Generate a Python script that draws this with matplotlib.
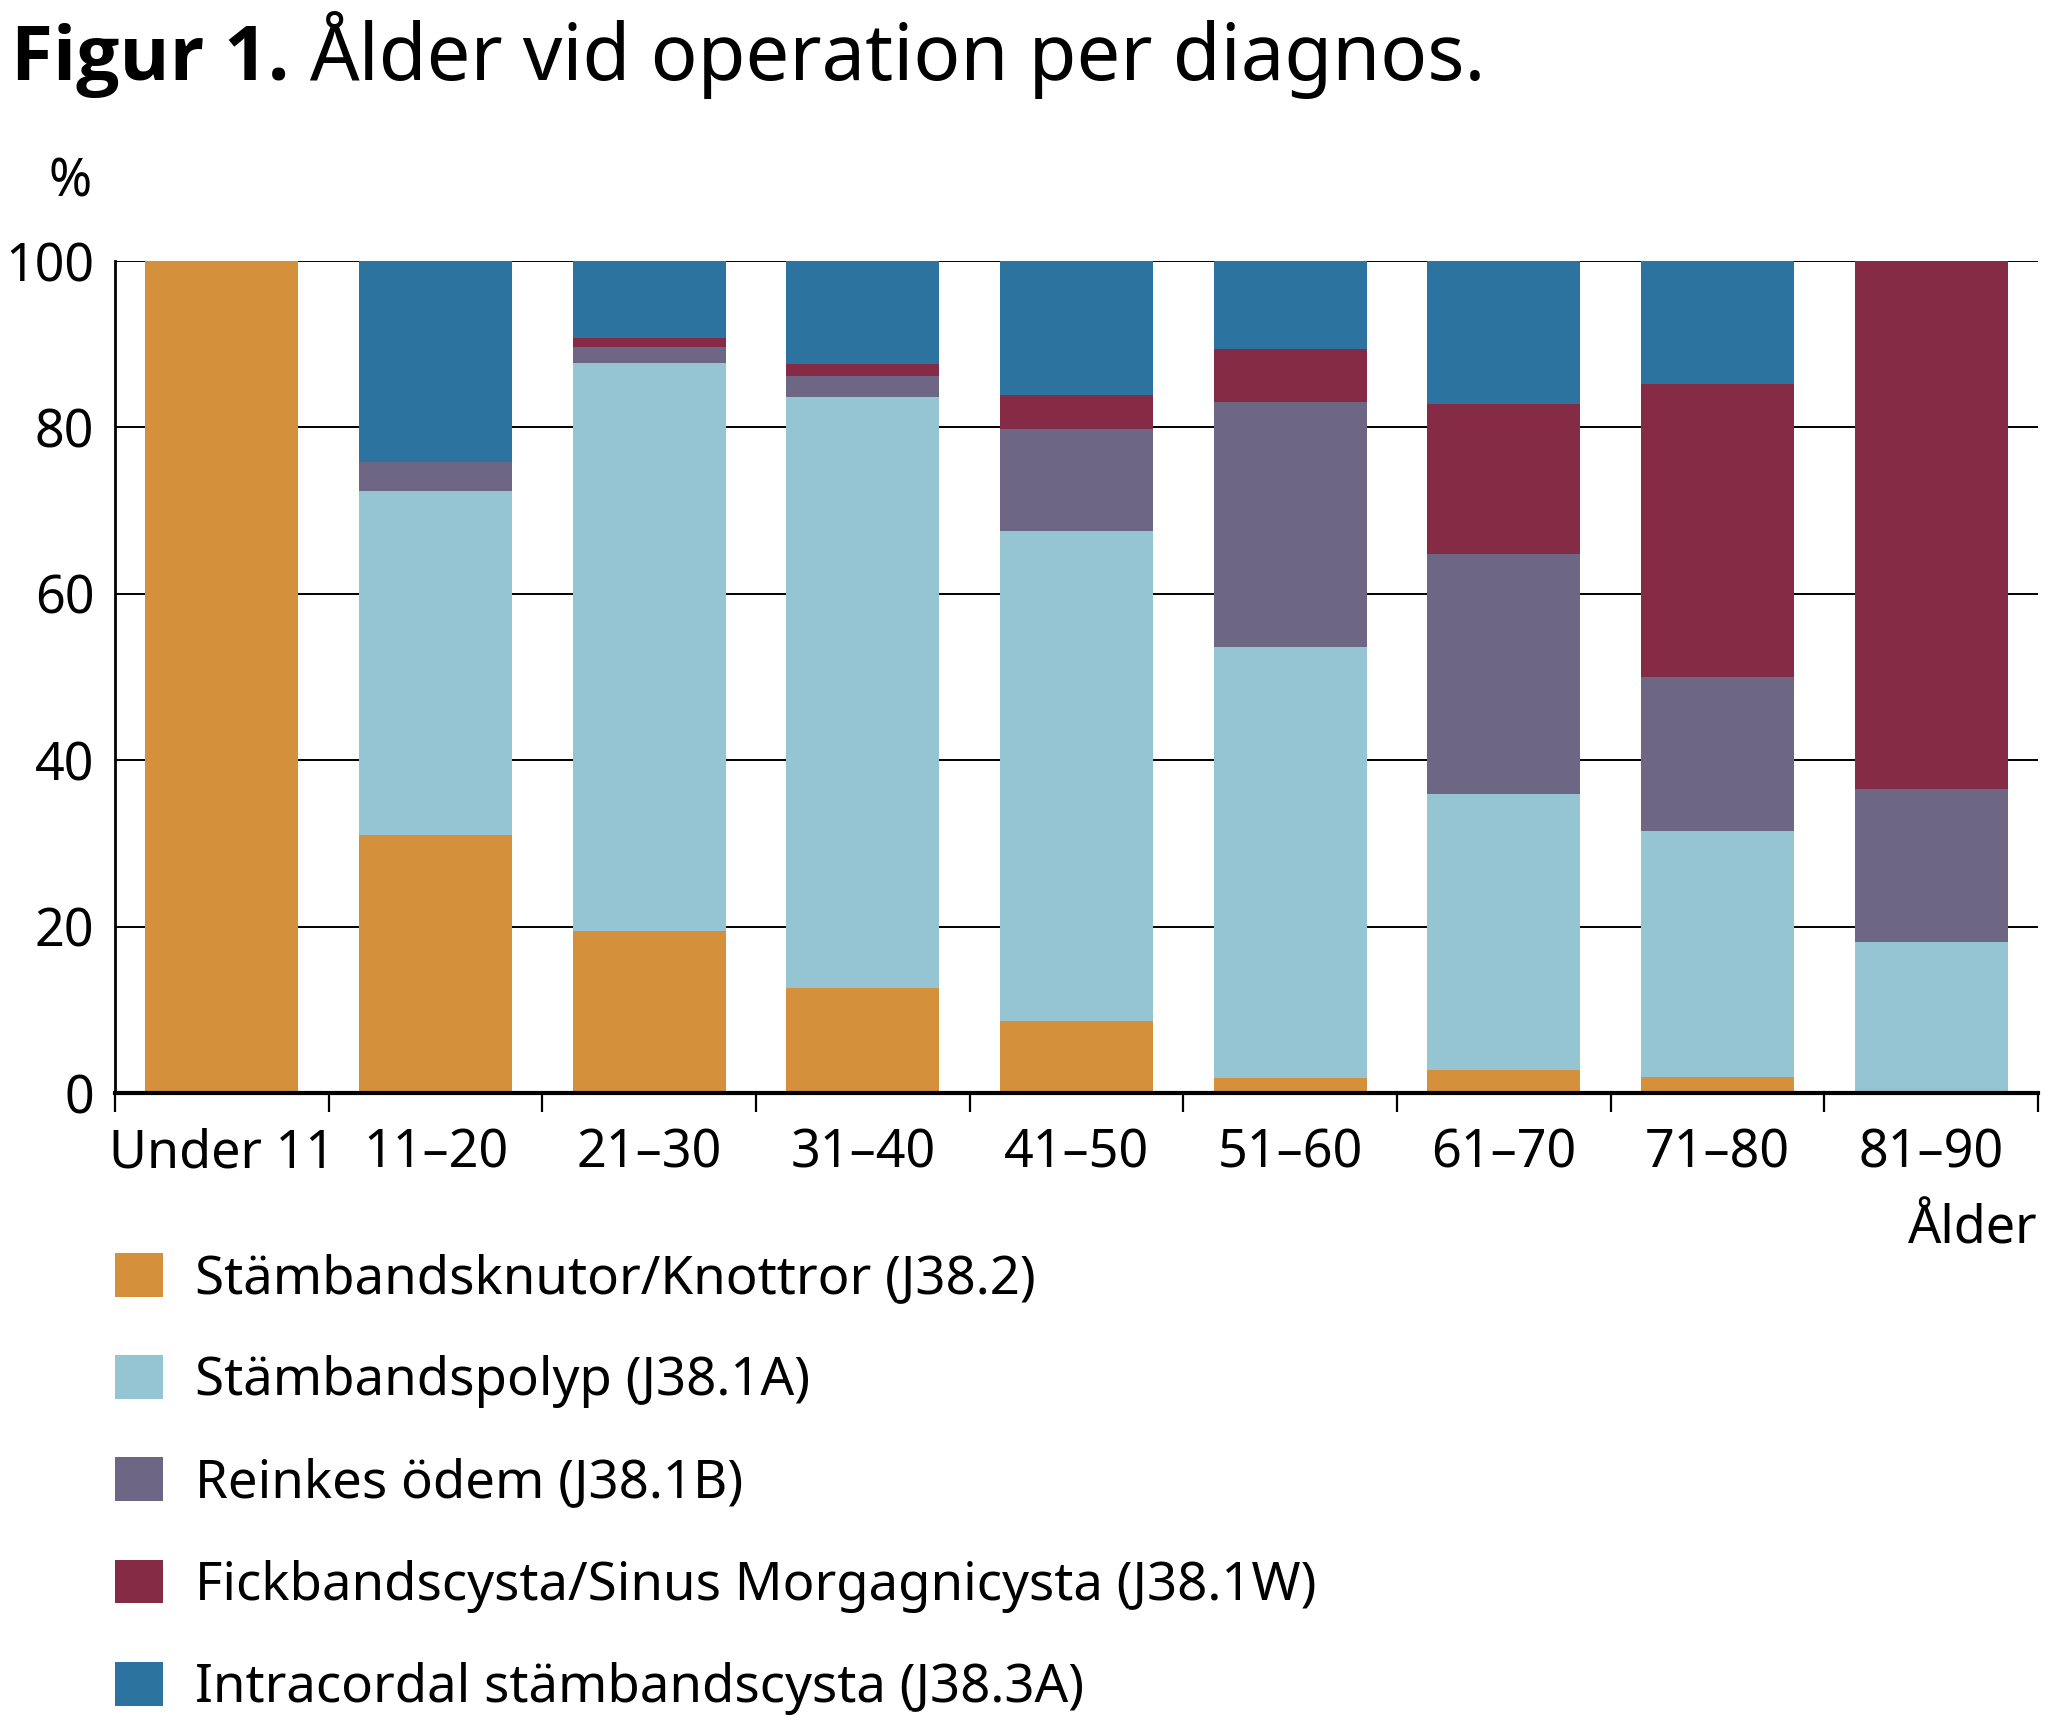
import matplotlib
matplotlib.use("Agg")
import matplotlib.pyplot as plt
from matplotlib import font_manager
import numpy as np

plt.rcParams['font.family'] = ['Noto Sans', 'DejaVu Sans']

# pick a family that really has a bold face for the title
def _has_bold(fam):
    for f in font_manager.fontManager.ttflist:
        if f.name == fam and isinstance(f.weight, (int, float)) and f.weight >= 600:
            return True
        if f.name == fam and isinstance(f.weight, str) and f.weight in ("bold", "heavy", "black", "extra bold", "semibold", "demibold"):
            return True
    return False

bold_family = 'DejaVu Sans'
for fam in ['Noto Sans', 'Open Sans', 'Lato', 'Roboto', 'Liberation Sans']:
    if _has_bold(fam):
        bold_family = fam
        break

categories = ["Under 11", "11–20", "21–30", "31–40", "41–50", "51–60", "61–70", "71–80", "81–90"]
series_names = [
    "Stämbandsknutor/Knottror (J38.2)",
    "Stämbandspolyp (J38.1A)",
    "Reinkes ödem (J38.1B)",
    "Fickbandscysta/Sinus Morgagnicysta (J38.1W)",
    "Intracordal stämbandscysta (J38.3A)",
]
knutor = [100.0, 31.0, 19.5, 12.6, 8.7, 1.8, 2.8, 1.9, 0.0]
polyp = [0.0, 41.3, 68.3, 71.1, 58.9, 51.8, 33.1, 29.6, 18.2]
reinke = [0.0, 3.5, 1.9, 2.5, 12.2, 29.4, 28.9, 18.5, 18.3]
fickband = [0.0, 0.0, 1.0, 1.4, 4.1, 6.4, 18.0, 35.2, 63.5]
intracordal = [0.0, 24.2, 9.3, 12.4, 16.1, 10.6, 17.2, 14.8, 0.0]
yticks = [0, 20, 40, 60, 80, 100]

colors = ["#D4903A", "#95C4D3", "#6D6785", "#862B45", "#2C749F"]

W, H = 2048, 1720
fig = plt.figure(figsize=(W / 100, H / 100), dpi=100)
ax = fig.add_axes([115 / W, 627 / H, (2038 - 115) / W, (1093 - 261) / H])

x = np.arange(len(categories))
bottom = np.zeros(len(categories))
handles = []
for vals, col, name in zip([knutor, polyp, reinke, fickband, intracordal], colors, series_names):
    b = ax.bar(x, vals, width=0.715, bottom=bottom, color=col, label=name, zorder=2, linewidth=0)
    handles.append(b)
    bottom = bottom + np.array(vals)

ax.set_xlim(-0.5, len(categories) - 0.5)
ax.set_ylim(0, 100)
ax.set_yticks(yticks)
ax.set_yticklabels([str(v) for v in yticks])
ax.yaxis.grid(True, color="black", linewidth=1.4)
ax.set_axisbelow(True)

ax.set_xticks(x)
ax.set_xticklabels(categories)
ax.set_xticks(np.arange(-0.5, len(categories), 1.0), minor=True)
ax.tick_params(axis="x", which="major", length=0, pad=25, labelsize=37.5)
ax.tick_params(axis="x", which="minor", length=14, width=1.6, direction="out")
ax.tick_params(axis="y", length=0, pad=15, labelsize=37.5)

for s in ["top", "right"]:
    ax.spines[s].set_visible(False)
ax.spines["left"].set_linewidth(2.0)
ax.spines["bottom"].set_linewidth(3.0)

# title
t1 = fig.text(11 / W, 1 - 80 / H, "Figur 1.", fontsize=55, fontweight="bold",
              family=[bold_family, 'DejaVu Sans'], va="baseline", ha="left")
fig.canvas.draw()
bb = t1.get_window_extent()
fig.text((bb.x1 + 20) / W, 1 - 80 / H, "Ålder vid operation per diagnos.", fontsize=56, va="baseline", ha="left")

fig.text(70 / W, 1 - 183 / H, "%", fontsize=37.5, ha="center", va="center")
fig.text(2038 / W, 1 - 1230 / H, "Ålder", fontsize=37.5, ha="right", va="center")

leg = fig.legend(handles=handles, labels=series_names, loc="upper left",
                 bbox_to_anchor=(115 / W, 1 - 1253 / H), frameon=False,
                 fontsize=38, handlelength=0.9, handleheight=0.9,
                 handletextpad=0.62, labelspacing=0.93, borderpad=0, borderaxespad=0)

fig.savefig("out.png", dpi=100)
